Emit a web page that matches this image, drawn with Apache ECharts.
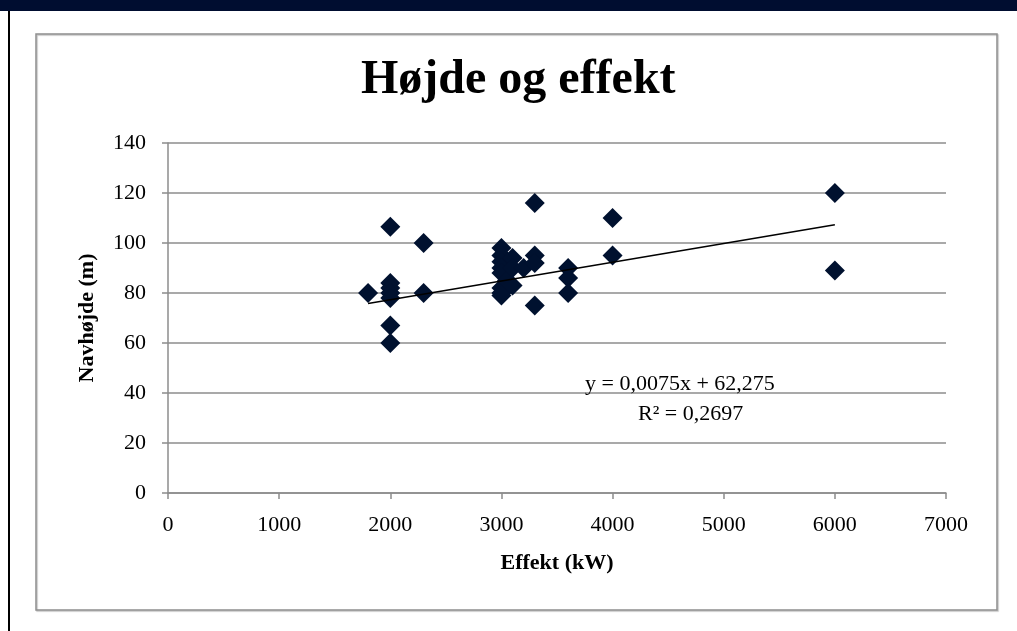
<!DOCTYPE html>
<html>
<head>
<meta charset="utf-8">
<script src="https://cdn.jsdelivr.net/npm/echarts@6/dist/echarts.min.js"></script>
<style>
  html, body { margin: 0; padding: 0; background: #ffffff; }
  #chart { width: 1017px; height: 631px; }
</style>
</head>
<body>
<div id="chart"></div>
<script>
// Turbine rated power (kW) and hub height (m)
const effektKW = [
  1800,
  2000, 2000, 2000, 2000, 2000, 2000, 2000,
  2300, 2300,
  3000, 3000, 3000, 3000, 3000, 3000, 3000, 3000,
  3050, 3100, 3100, 3100, 3200,
  3300, 3300, 3300, 3300,
  3600, 3600, 3600,
  4000, 4000,
  6000, 6000
];
const navhoejdeM = [
  80,
  106.5, 84, 82, 80, 78, 67, 60,
  100, 80,
  98, 95, 92.5, 90, 88, 82, 80, 79,
  85, 94, 90, 83, 90,
  116, 95, 92, 75,
  90, 86, 80,
  110, 95,
  120, 89
];

// Linear trend line as stated in its label
const trendSlope = 0.0075;
const trendIntercept = 62.275;
const trendRange = [1800, 6000];
const trendLabel = ['y = 0,0075x + 62,275', 'R² = 0,2697'];

const xTicks = { min: 0, max: 7000, interval: 1000 };
const yTicks = { min: 0, max: 140, interval: 20 };

const navy = '#00112f';
const gridGray = '#8c8c8c';
const serif = '"Liberation Serif", "DejaVu Serif", serif';

const points = effektKW.map((x, i) => [x, navhoejdeM[i]]);
const trendPoints = trendRange.map(x => [x, trendSlope * x + trendIntercept]);

const chart = echarts.init(document.getElementById('chart'), null, { renderer: 'canvas' });

chart.setOption({
  animation: false,
  backgroundColor: '#ffffff',
  title: {
    text: 'Højde og effekt',
    left: 356,
    top: 52,
    textStyle: { fontFamily: serif, fontSize: 48, fontWeight: 'bold', color: '#000000' }
  },
  grid: { left: 168, right: 71, top: 143, bottom: 138 },
  xAxis: {
    type: 'value',
    min: xTicks.min, max: xTicks.max, interval: xTicks.interval,
    name: 'Effekt (kW)',
    nameLocation: 'middle',
    nameGap: 59,
    nameTextStyle: { fontFamily: serif, fontSize: 22, fontWeight: 'bold', color: '#000000' },
    axisLine: { show: true, lineStyle: { color: gridGray, width: 1.5 } },
    axisTick: { show: true, length: 6, lineStyle: { color: gridGray, width: 1.5 } },
    axisLabel: {
      fontFamily: serif, fontSize: 22, color: '#000000', margin: 21,
      formatter: v => String(v)
    },
    splitLine: { show: false }
  },
  yAxis: {
    type: 'value',
    min: yTicks.min, max: yTicks.max, interval: yTicks.interval,
    name: 'Navhøjde (m)',
    nameLocation: 'middle',
    nameGap: 70,
    nameRotate: 90,
    nameTextStyle: { fontFamily: serif, fontSize: 22, fontWeight: 'bold', color: '#000000' },
    axisLine: { show: true, lineStyle: { color: gridGray, width: 1.5 } },
    axisTick: { show: true, length: 6, lineStyle: { color: gridGray, width: 1.5 } },
    axisLabel: { fontFamily: serif, fontSize: 22, color: '#000000', margin: 22 },
    splitLine: { show: true, lineStyle: { color: gridGray, width: 1.5 } }
  },
  series: [
    {
      type: 'line',
      data: trendPoints,
      showSymbol: false,
      symbol: 'none',
      lineStyle: { color: '#000000', width: 1.5 },
      z: 3
    },
    {
      type: 'scatter',
      data: points,
      symbol: 'diamond',
      symbolSize: 20,
      itemStyle: { color: navy, opacity: 1 },
      emphasis: { disabled: true },
      z: 2
    }
  ],
  graphic: [
    // dark band across the top
    { type: 'rect', shape: { x: 0, y: 0, width: 1017, height: 11 }, style: { fill: '#000d30' }, silent: true },
    // dark rule on the left edge
    { type: 'rect', shape: { x: 8, y: 11, width: 2, height: 620 }, style: { fill: '#000000' }, silent: true },
    // chart frame
    {
      type: 'rect', z: -1,
      shape: { x: 36, y: 34, width: 961, height: 576 },
      style: { fill: 'none', stroke: '#8f8f8f', lineWidth: 1.5, shadowColor: 'rgba(0,0,0,0.25)', shadowOffsetX: 1, shadowOffsetY: 1, shadowBlur: 1 },
      silent: true
    },
    // trend line equation
    {
      type: 'text', x: 585, y: 373, z: 10,
      style: { text: trendLabel[0], fontFamily: serif, fontSize: 22, fill: '#000000' }
    },
    {
      type: 'text', x: 638, y: 403, z: 10,
      style: { text: trendLabel[1], fontFamily: serif, fontSize: 22, fill: '#000000' }
    }
  ]
});
</script>
</body>
</html>
